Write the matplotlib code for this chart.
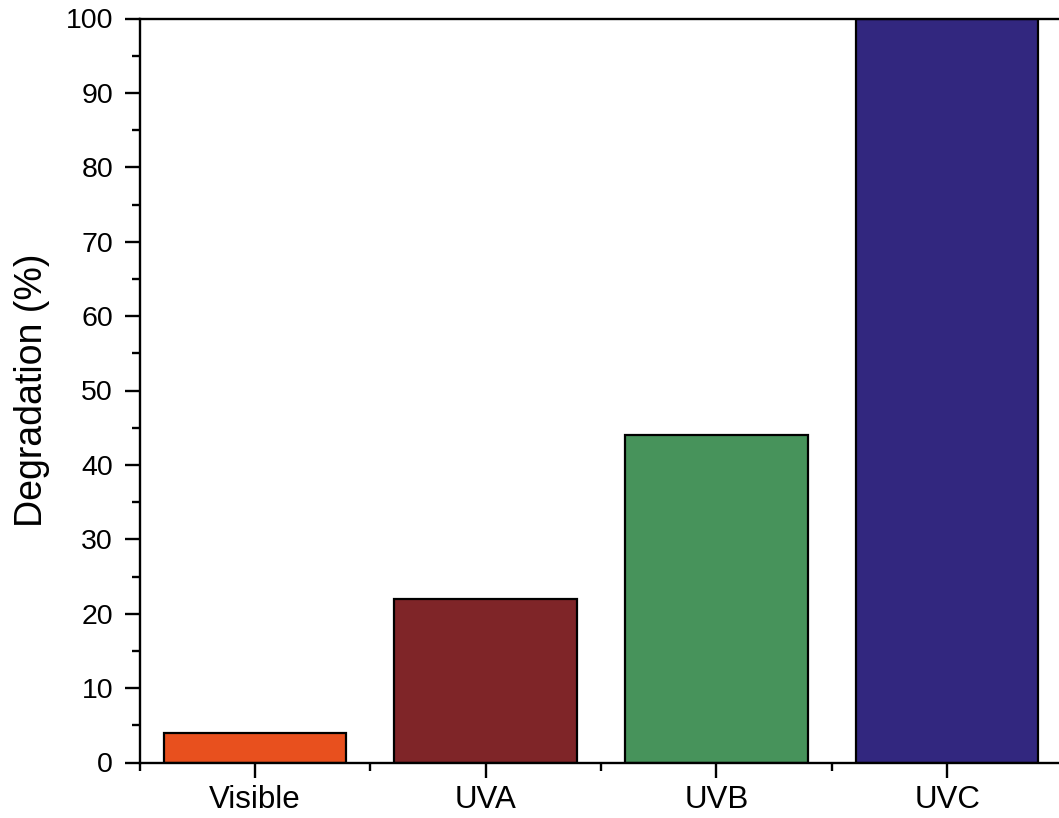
import matplotlib
matplotlib.use('Agg')
import matplotlib.pyplot as plt
from matplotlib.ticker import MultipleLocator, FixedLocator

categories = ['Visible', 'UVA', 'UVB', 'UVC']
degradation = [4, 22, 44, 100]
colors = ['#E8501E', '#7F2528', '#47935B', '#32277F']

plt.rcParams['font.family'] = ['Liberation Sans', 'DejaVu Sans']

fig = plt.figure(figsize=(10.59, 8.18), dpi=100)
ax = fig.add_axes([139.5 / 1059, 1 - 762.5 / 818, 923 / 1059, 744 / 818])

x = range(len(categories))
ax.bar(x, degradation, width=0.79, color=colors, edgecolor='black', linewidth=1.6, zorder=2)

ax.set_xlim(-0.5, 3.5)
ax.set_ylim(0, 100)
ax.set_xticks(list(x))
ax.set_xticklabels(categories)
ax.xaxis.set_minor_locator(FixedLocator([-0.5, 0.5, 1.5, 2.5]))
ax.yaxis.set_major_locator(MultipleLocator(10))
ax.yaxis.set_minor_locator(MultipleLocator(5))

for s in ax.spines.values():
    s.set_linewidth(1.7)
ax.spines['right'].set_visible(False)

ax.tick_params(which='major', direction='out', length=11, width=1.7)
ax.tick_params(which='minor', direction='out', length=5.5, width=1.7)
ax.tick_params(axis='y', which='major', pad=8, labelsize=20.5)
ax.tick_params(axis='x', which='major', pad=5, labelsize=22.5)

ax.set_ylabel('Degradation (%)', fontsize=27)
ax.yaxis.set_label_coords(-0.097, 0.5)

fig.savefig('out.png', dpi=100)
